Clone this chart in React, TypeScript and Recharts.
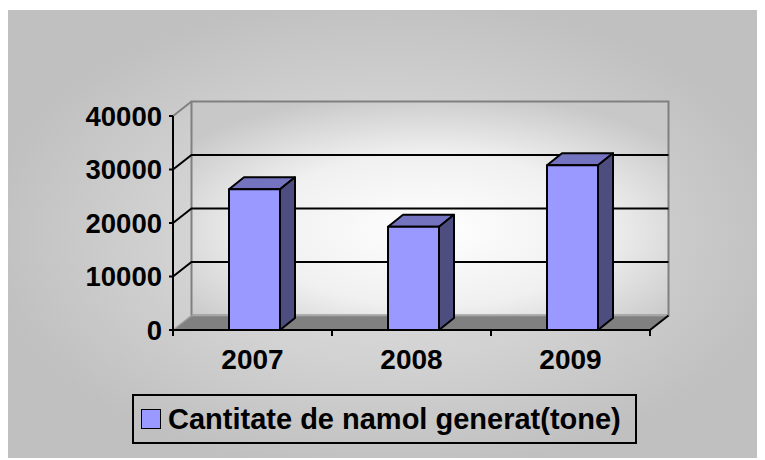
import React from "react";
import { BarChart, Bar, XAxis, YAxis, CartesianGrid, Legend } from "recharts";

const years = ["2007", "2008", "2009"];
const sludge = [26300, 19300, 30800];
const yTicks = [0, 10000, 20000, 30000, 40000];
const seriesName = "Cantitate de namol generat(tone)";

const data = years.map((y, i) => ({ year: y, value: sludge[i] }));

const FONT = "'Liberation Sans', Arial, Helvetica, sans-serif";
const W = 757;
const H = 450;
const MARGIN = { top: 106, right: 115, bottom: 90, left: 0 };
const Y_W = 165;
const PLOT_W = W - MARGIN.left - MARGIN.right - Y_W;
const BAND = PLOT_W / years.length;
const DX = 18.5;
const DY = 14.5;
const BDX = 15;
const BDY = 12;
const BOFF = 2;

const WallLayer = (p: any) => {
  const x = p.x1;
  const w = p.x2 - p.x1;
  const top = p.y;
  const bottom = p.y + p.height;
  if (Math.abs(p.y1 - bottom) > 0.5) return <g />;
  return (
    <g>
      <rect
        x={x + DX}
        y={top - DY}
        width={w}
        height={bottom - top}
        fill="url(#wallGrad)"
        stroke="#808080"
        strokeWidth={2}
      />
      <polygon
        points={`${x},${bottom} ${x + w},${bottom} ${x + w + DX},${bottom - DY} ${x + DX},${bottom - DY}`}
        fill="#808080"
        stroke="none"
      />
      <line x1={x} y1={bottom} x2={x + DX} y2={bottom - DY} stroke="#a0a0a0" strokeWidth={1.5} />
      <line x1={x + DX} y1={bottom - DY} x2={x + w + DX} y2={bottom - DY} stroke="#a8a8a8" strokeWidth={1.5} />
      <line x1={x + w} y1={bottom} x2={x + w + DX} y2={bottom - DY} stroke="#000" strokeWidth={2} />
    </g>
  );
};

const GridLayer = (p: any) => {
  const { x1, x2, y1 } = p;
  const top = p.y;
  const bottom = p.y + p.height;
  if (Math.abs(y1 - bottom) < 0.5) return <g />;
  if (Math.abs(y1 - top) < 0.5) {
    return <line x1={x1} y1={y1} x2={x1 + DX} y2={y1 - DY} stroke="#808080" strokeWidth={2} />;
  }
  return (
    <polyline
      points={`${x1},${y1} ${x1 + DX},${y1 - DY} ${x2 + DX},${y1 - DY}`}
      fill="none"
      stroke="#000"
      strokeWidth={2}
    />
  );
};

const Bar3D = (p: any) => {
  const { width, height } = p;
  const x = p.x + BOFF;
  const y = p.y;
  if (!height || height <= 0) return <g />;
  const b = y + height;
  return (
    <g stroke="#000" strokeWidth={2} strokeLinejoin="round">
      <polygon
        points={`${x},${y} ${x + BDX},${y - BDY} ${x + width + BDX},${y - BDY} ${x + width},${y}`}
        fill="#7373bf"
      />
      <polygon
        points={`${x + width},${y} ${x + width + BDX},${y - BDY} ${x + width + BDX},${b - BDY} ${x + width},${b}`}
        fill="#4d4d80"
      />
      <rect x={x} y={y} width={width} height={height} fill="#9999ff" />
    </g>
  );
};

const XTick = (p: any) => {
  const { x, y, payload } = p;
  const half = BAND / 2;
  const last = payload.value === years[years.length - 1];
  return (
    <g>
      <line x1={x - half} y1={y} x2={x - half} y2={y + 6} stroke="#000" strokeWidth={2} />
      {last && <line x1={x + half} y1={y} x2={x + half} y2={y + 6} stroke="#000" strokeWidth={2} />}
      <text
        x={x}
        y={y + 39}
        textAnchor="middle"
        fontFamily={FONT}
        fontWeight="bold"
        fontSize={28}
        fill="#000"
      >
        {payload.value}
      </text>
    </g>
  );
};

const LegendBox = (props: any) => {
  const item = (props.payload && props.payload[0]) || { value: seriesName, color: "#9999ff" };
  return (
    <div
      style={{
        boxSizing: "border-box",
        width: 505,
        height: 50,
        border: "2px solid #000",
        display: "flex",
        alignItems: "center",
        paddingLeft: 7,
        fontFamily: FONT,
        fontWeight: "bold",
        fontSize: 29,
        color: "#000",
        whiteSpace: "nowrap",
      }}
    >
      <span
        style={{
          display: "inline-block",
          boxSizing: "border-box",
          width: 20,
          height: 20,
          border: "1.5px solid #000",
          background: "#9999ff",
          marginRight: 7,
          flex: "none",
        }}
      />
      <span>{item.value}</span>
    </div>
  );
};

export default function App() {
  return (
    <div
      style={{
        position: "relative",
        top: 2,
        width: W,
        height: H,
        background: "radial-gradient(ellipse farthest-corner at 50% 50%, #e0e0e0 0%, #d2d2d2 40%, #c0c0c0 75%)",
      }}
    >
      <BarChart width={W} height={H} data={data} margin={MARGIN} barSize={51}>
        <defs>
          <radialGradient id="wallGrad" cx="50%" cy="60%" r="65%">
            <stop offset="0%" stopColor="#ffffff" />
            <stop offset="55%" stopColor="#f0f0f0" />
            <stop offset="100%" stopColor="#c8c8c8" />
          </radialGradient>
        </defs>
        <CartesianGrid vertical={false} horizontal={(p: any) => <WallLayer {...p} />} />
        <CartesianGrid vertical={false} horizontal={(p: any) => <GridLayer {...p} />} />
        <XAxis
          dataKey="year"
          height={40}
          axisLine={{ stroke: "#000", strokeWidth: 2 }}
          tickLine={false}
          tickSize={0}
          tickMargin={0}
          tick={(p: any) => <XTick {...p} />}
          interval={0}
        />
        <YAxis
          width={Y_W}
          domain={[0, 40000]}
          ticks={yTicks}
          interval={0}
          axisLine={{ stroke: "#000", strokeWidth: 2 }}
          tickLine={{ stroke: "#000", strokeWidth: 2 }}
          tickSize={4}
          tickMargin={7}
          tick={{ fill: "#000", fontSize: 27.5, fontWeight: "bold", fontFamily: FONT }}
        />
        <Legend
          layout="horizontal"
          verticalAlign="middle"
          align="center"
          wrapperStyle={{ left: 124, top: 384, width: 505, height: 50 }}
          content={(p: any) => <LegendBox {...p} />}
        />
        <Bar
          dataKey="value"
          name={seriesName}
          fill="#9999ff"
          isAnimationActive={false}
          shape={(p: any) => <Bar3D {...p} />}
        />
      </BarChart>
    </div>
  );
}
